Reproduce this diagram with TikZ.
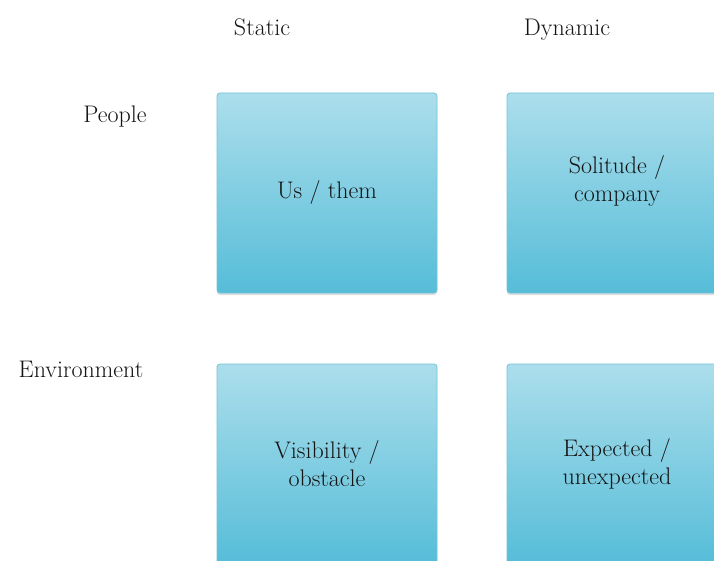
\documentclass[tikz,border=0pt]{standalone}
\usetikzlibrary{positioning,shadows}
\definecolor{qdink}{HTML}{141414}
\definecolor{qdtop}{HTML}{ACDEEC}
\definecolor{qdbot}{HTML}{56BDD8}
\definecolor{qdedge}{HTML}{74C4DA}
\tikzset{
  qd text/.style={font=\fontsize{24}{28}\selectfont, text=qdink},
  qd cell/.style={draw=qdedge, line width=0.8pt, rounded corners=3pt,
    top color=qdtop, bottom color=qdbot, minimum width=220pt, minimum height=200pt,
    align=center, drop shadow={shadow xshift=0pt, shadow yshift=-2pt, opacity=0.25}},
  qd label/.style={qd text, align=center},
  qd head/.style={qd text, anchor=base}
}
\begin{document}
\begin{tikzpicture}[qd text, x=1pt, y=-1pt]
  \clip (0,0) rectangle (714,561);
  \fill[white] (0,0) rectangle (714,561);
  % column and row headings
  \node[qd head] (sta) at (262,36) {Static};
  \node[qd head] (dyn) at (567,36) {Dynamic};
  \node[qd head] (ppl) at (115,123) {People};
  \node[qd head] (env) at (81,377) {Environment};
  % the four cells
  \node[qd cell] (usthem) at (327,193) {Us / them};
  \node[qd cell] (solit) at (617,193) {};
  \node[qd label] at ([yshift=12pt]solit.center) {Solitude /\\company};
  \node[qd cell] (visib) at (327,464) {Visibility /\\obstacle};
  \node[qd cell] (expct) at (617,464) {Expected /\\unexpected};
\end{tikzpicture}
\end{document}
